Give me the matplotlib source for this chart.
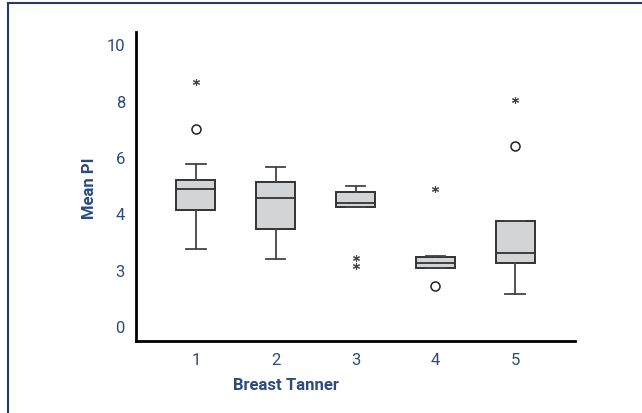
import matplotlib.pyplot as plt
from matplotlib.lines import Line2D

# box statistics (y in axis units)
groups = [1, 2, 3, 4, 5]
whislo = [2.73, 2.37, 4.24, 2.05, 1.15]
q1 = [4.11, 3.46, 4.24, 2.05, 2.24]
med = [4.86, 4.55, 4.35, 2.24, 2.60]
q3 = [5.18, 5.10, 4.76, 2.44, 3.71]
whishi = [5.74, 5.65, 4.98, 2.48, 3.71]

# outliers: circles and extremes (stars)
circle_x = [1, 4, 5]
circle_y = [6.99, 1.43, 6.38]
star_x = [1, 3, 3, 4, 5]
star_y = [8.65, 2.41, 2.14, 4.86, 8.01]

ytick_pos = [0, 2, 4, 6, 8, 10]
ytick_labels = ['0', '3', '4', '6', '8', '10']

navy = '#2b4a7e'

fig = plt.figure(figsize=(6.42, 4.14), dpi=100)
ax = fig.add_axes([136 / 642, 1 - 342 / 414, (575 - 136) / 642, (342 - 33) / 414])

stats = []
for i in range(len(groups)):
    stats.append(dict(whislo=whislo[i], q1=q1[i], med=med[i], q3=q3[i],
                      whishi=whishi[i], fliers=[]))

ax.bxp(stats, positions=groups, widths=0.49, patch_artist=True, showfliers=False,
       boxprops=dict(facecolor='#d3d4d6', edgecolor='#333333', linewidth=1.4),
       medianprops=dict(color='#333333', linewidth=1.3),
       whiskerprops=dict(color='#444444', linewidth=1.3),
       capprops=dict(color='#444444', linewidth=1.3))

ax.plot(circle_x, circle_y, 'o', ms=6.5, mfc='white', mec='#222222', mew=1.1, zorder=5)
ax.plot(star_x, star_y, ls='none', marker=(6, 2, 0), ms=5, color='#444444', mew=0.8, zorder=5)

ax.set_xlim(0.25, 5.75)
ax.set_ylim(-0.53, 10.43)
ax.set_xticks(groups)
ax.set_xticklabels([str(g) for g in groups])
ax.set_yticks(ytick_pos)
ax.set_yticklabels(ytick_labels)
ax.tick_params(length=0, labelsize=12, labelcolor=navy, pad=8)
for lab in ax.get_xticklabels() + ax.get_yticklabels():
    lab.set_fontfamily('Roboto')

for s in ['top', 'right']:
    ax.spines[s].set_visible(False)
for s in ['left', 'bottom']:
    ax.spines[s].set_linewidth(2)
    ax.spines[s].set_color('black')

fig.text(90 / 642, 1 - 188 / 414, 'Mean PI', rotation=90, ha='center', va='center',
         fontsize=12, fontweight='bold', color=navy, family='Roboto')
fig.text(286 / 642, 1 - 386 / 414, 'Breast Tanner', ha='center', va='center',
         fontsize=12, fontweight='bold', color=navy, family='Roboto')

# outer frame (top and left edges)
fig.add_artist(Line2D([8 / 642, 1], [1 - 4 / 414, 1 - 4 / 414], color='#1f3a6e', lw=1.5,
                      transform=fig.transFigure))
fig.add_artist(Line2D([8 / 642, 8 / 642], [0, 1 - 4 / 414], color='#1f3a6e', lw=1.5,
                      transform=fig.transFigure))

fig.savefig('out.png', dpi=100)
